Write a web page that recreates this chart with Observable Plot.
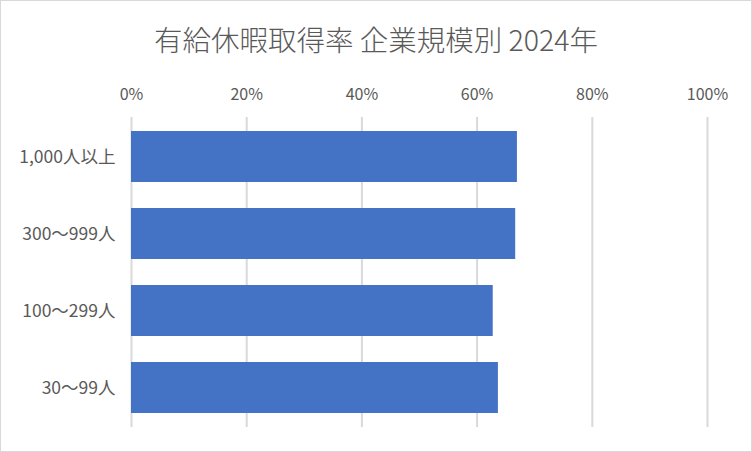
<!DOCTYPE html>
<html><head><meta charset="utf-8">
<script src="https://cdn.jsdelivr.net/npm/d3@7"></script>
<script src="https://cdn.jsdelivr.net/npm/@observablehq/plot@0.6"></script>
<style>
body{margin:0;background:#fff;}
#wrap{width:752px;height:452px;box-sizing:border-box;border:1px solid #d9d9d9;position:relative;font-family:"Noto Sans CJK JP","Noto Sans",sans-serif;}
#title{height:69px;padding-top:19px;box-sizing:border-box;line-height:38px;text-align:center;font-size:28.5px;color:#595959;font-weight:300;}
svg{display:block;}
</style></head>
<body><div id="wrap"><div id="title">有給休暇取得率 企業規模別 2024年</div><div id="chart"></div></div>
<script>
const categories = ["1,000人以上","300～999人","100～299人","30～99人"];
const rates = [67.0, 66.7, 62.8, 63.7];
const xTicks = [0,20,40,60,80,100];
const data = categories.map((c,i)=>({cat:c, v:rates[i]}));
const chart = Plot.plot({
  width: 750, height: 381,
  marginTop: 47, marginBottom: 24, marginLeft: 130, marginRight: 44,
  style:{fontFamily:'"Noto Sans CJK JP","Noto Sans",sans-serif', fontSize:"16px", color:"#595959", background:"#fff"},
  x:{domain:[0,100], axis:null},
  y:{domain:categories, paddingInner:0.34, paddingOuter:0.17, axis:null},
  marks:[
    Plot.gridX(xTicks,{stroke:"#d9d9d9", strokeOpacity:1, strokeWidth:2}),
    Plot.barX(data,{x:"v", y:"cat", fill:"#4472c4"}),
    Plot.axisX(xTicks,{anchor:"top", tickSize:0, tickPadding:18, tickFormat:d=>d+"%", label:null, fontSize:16}),
    Plot.axisY(categories,{tickSize:0, tickPadding:16, label:null, fontSize:17.5})
  ]
});
document.getElementById("chart").appendChild(chart);
</script></body></html>
